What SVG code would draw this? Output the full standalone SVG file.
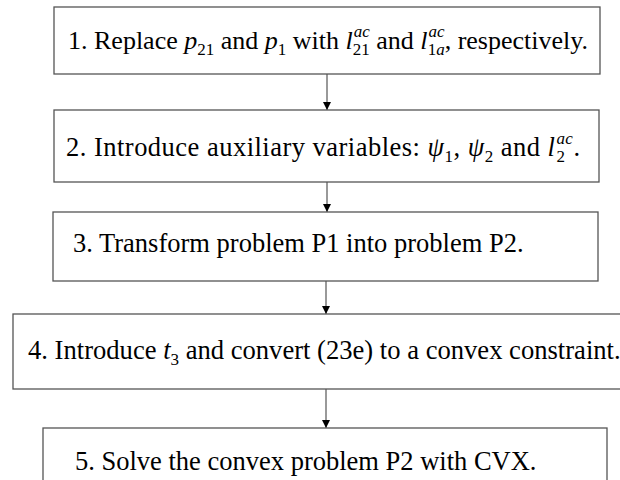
<svg xmlns="http://www.w3.org/2000/svg" width="620" height="480" viewBox="0 0 620 480">
<defs>
<marker id="arr" viewBox="0 0 10 10" refX="10" refY="5" markerWidth="8" markerHeight="8" markerUnits="userSpaceOnUse" orient="auto">
<path d="M0,0 L10,5 L0,10 z" fill="#000"/>
</marker>
<style>
.box{fill:#fff;stroke:#555;stroke-width:1.3}
.t{font-family:"Liberation Serif","Times New Roman",serif;font-size:26.5px;fill:#000}
.i{font-style:italic}
.s{font-size:17px}
.c{stroke:#555;stroke-width:1.2;fill:none}
</style>
</defs>
<rect width="620" height="480" fill="#fff"/>
<g id="connectors">
<line class="c" x1="327" y1="74" x2="327" y2="110" marker-end="url(#arr)"/>
<line class="c" x1="327" y1="182" x2="327" y2="212" marker-end="url(#arr)"/>
<line class="c" x1="326" y1="281" x2="326" y2="314" marker-end="url(#arr)"/>
<line class="c" x1="326" y1="389" x2="326" y2="428" marker-end="url(#arr)"/>
</g>
<g id="n1">
<rect class="box" x="54" y="7" width="546" height="67"/>
<text class="t" style="font-size:26px" x="68" y="49">1. Replace <tspan class="i">p</tspan><tspan class="s" dy="6">21</tspan><tspan dy="-6"> and </tspan><tspan class="i">p</tspan><tspan class="s" dy="6">1</tspan><tspan dy="-6"> with </tspan><tspan class="i">l</tspan><tspan class="s i" dx="1" dy="-12">ac</tspan><tspan class="s" dx="-17" dy="18">21</tspan><tspan dy="-6"> and </tspan><tspan class="i">l</tspan><tspan class="s i" dx="1" dy="-12">ac</tspan><tspan class="s" dx="-17" dy="18">1<tspan class="i">a</tspan></tspan><tspan dy="-6">, respectively.</tspan></text>
</g>
<g id="n2">
<rect class="box" x="54" y="110" width="545" height="72"/>
<text class="t" x="66" y="156" textLength="514" lengthAdjust="spacing">2. Introduce auxiliary variables: <tspan class="i">ψ</tspan><tspan class="s" dy="6">1</tspan><tspan dy="-6">, </tspan><tspan class="i">ψ</tspan><tspan class="s" dy="6">2</tspan><tspan dy="-6"> and </tspan><tspan class="i">l</tspan><tspan class="s i" dx="1" dy="-12">ac</tspan><tspan class="s" dx="-17" dy="18">2</tspan><tspan dx="8" dy="-6">.</tspan></text>
</g>
<g id="n3">
<rect class="box" x="53" y="212" width="545" height="69"/>
<text class="t" x="73" y="252">3. Transform problem P1 into problem P2.</text>
</g>
<g id="n4">
<rect class="box" x="13" y="314" width="620" height="75"/>
<text class="t" x="28" y="359" style="font-size:26.6px">4. Introduce <tspan class="i">t</tspan><tspan class="s" dy="6">3</tspan><tspan dy="-6"> and convert (23e) to a convex constraint.</tspan></text>
</g>
<g id="n5">
<rect class="box" x="43" y="428" width="564" height="60"/>
<text class="t" x="75" y="470">5. Solve the convex problem P2 with CVX.</text>
</g>
</svg>
